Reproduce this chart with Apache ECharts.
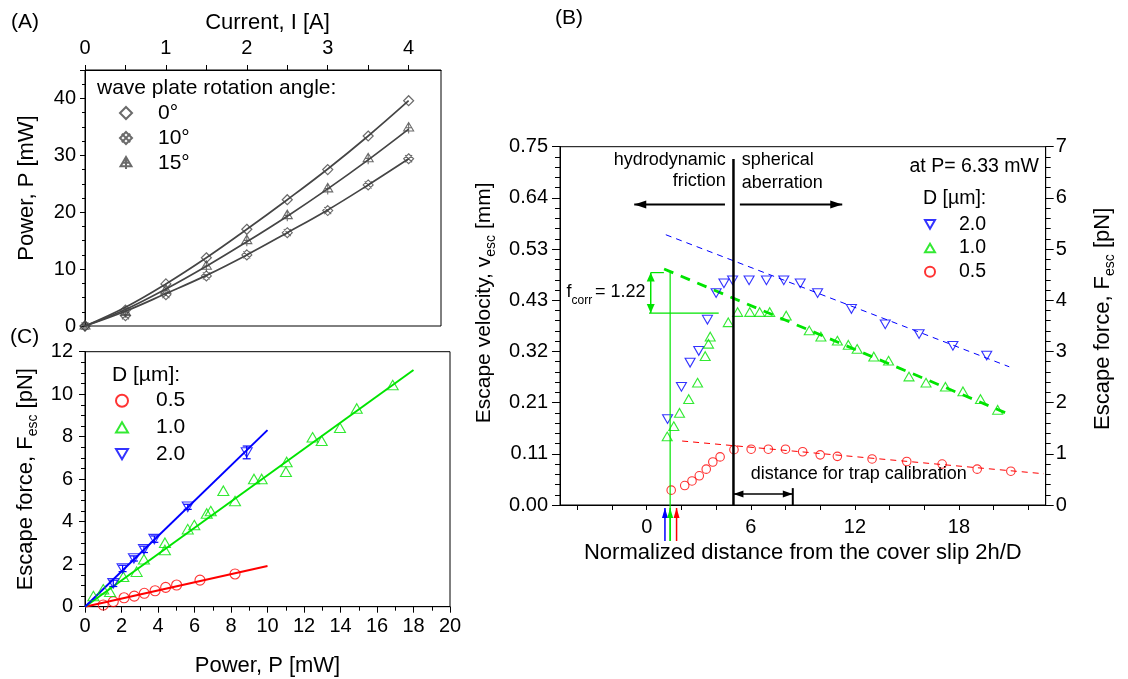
<!DOCTYPE html>
<html><head><meta charset="utf-8">
<script src="https://cdn.jsdelivr.net/npm/echarts@6/dist/echarts.min.js"></script>
<style>html,body{margin:0;padding:0;background:#fff}#c{width:1128px;height:679px}</style>
</head><body><div id="c"></div>
<script>
// ---------- Panel A : power vs current ----------
const currentA = [0, 0.5, 1, 1.5, 2, 2.5, 3, 3.5, 4];
const powerA0  = [0, 2.8, 7.4, 12.0, 17.0, 22.2, 27.5, 33.4, 39.6];
const powerA10 = [0, 1.8, 5.5, 8.8, 12.5, 16.4, 20.3, 24.8, 29.4];
const powerA15 = [0, 2.4, 6.3, 10.5, 15.0, 19.4, 24.1, 29.4, 34.8];
const fitA0  = [0, 3.3, 7.4, 12.0, 17.0, 22.2, 27.6, 33.4, 39.6];
const fitA10 = [0, 2.6, 5.7, 8.9, 12.5, 16.4, 20.4, 24.8, 29.4];
const fitA15 = [0, 2.9, 6.5, 10.5, 14.8, 19.3, 24.1, 29.2, 34.6];
const tickValsA = [0, 0.5, 1, 1.5, 2, 2.5, 3, 3.5, 4];
const labelValsA = [0, 1, 2, 3, 4];

// ---------- Panel C : escape force vs power ----------
const powerC05 = [1.0, 1.55, 2.14, 2.7, 3.25, 3.84, 4.42, 5.02, 6.3, 8.22];
const forceC05 = [0.08, 0.24, 0.42, 0.5, 0.63, 0.75, 0.91, 1.02, 1.25, 1.54];
const powerC10 = [0.46, 1.0, 1.37, 2.1, 2.83, 3.23, 4.38, 4.38, 5.63, 5.99, 6.67, 6.89, 7.58, 8.22, 9.26, 9.68, 11.05, 11.01, 12.47, 12.97, 13.97, 14.89, 16.86];
const forceC10 = [0.5, 0.82, 0.7, 1.41, 1.65, 2.23, 3.01, 2.67, 3.65, 3.84, 4.39, 4.5, 5.46, 4.97, 6.01, 6.01, 6.81, 6.35, 7.97, 7.81, 8.42, 9.33, 10.43];
const powerC20 = [1.55, 2.06, 2.68, 3.23, 3.8, 5.63, 8.86];
const forceC20 = [1.1, 1.8, 2.27, 2.7, 3.18, 4.7, 7.26];
const errC20   = [0.15, 0.15, 0.12, 0.15, 0.15, 0.12, 0.3];
const fitC05x = [0, 10],  fitC05y = [0, 1.92];
const fitC10x = [0, 18],  fitC10y = [0, 11.14];
const fitC20x = [0, 10],  fitC20y = [0, 8.31];

// ---------- Panel B : escape force vs normalized distance ----------
const distB20  = [1.2, 2.0, 2.5, 3.0, 3.5, 4.0, 4.45, 4.95, 5.9, 6.9, 7.9, 8.85, 9.85, 11.8, 13.75, 15.7, 17.65, 19.6];
const forceB20 = [1.68, 2.31, 2.78, 3.01, 3.62, 4.14, 4.33, 4.39, 4.39, 4.39, 4.39, 4.33, 4.14, 3.83, 3.53, 3.34, 3.11, 2.92];
const distB10  = [1.18, 1.56, 1.89, 2.42, 2.93, 3.37, 3.56, 3.66, 4.7, 5.24, 5.94, 6.51, 7.09, 8.04, 9.37, 10.04, 10.99, 11.62, 12.13, 13.09, 13.94, 15.12, 16.1, 17.22, 18.23, 19.24, 20.23];
const forceB10 = [1.34, 1.54, 1.80, 2.07, 2.39, 2.91, 3.15, 3.29, 3.57, 3.77, 3.77, 3.77, 3.77, 3.70, 3.41, 3.29, 3.21, 3.13, 3.05, 2.90, 2.82, 2.51, 2.39, 2.31, 2.22, 2.07, 1.86];
const distB05  = [1.41, 2.19, 2.61, 3.03, 3.43, 3.81, 4.23, 5.03, 6.02, 7.01, 8.0, 8.99, 10.0, 10.99, 12.99, 14.99, 17.03, 19.05, 20.99];
const forceB05 = [0.29, 0.38, 0.47, 0.57, 0.70, 0.84, 0.94, 1.08, 1.09, 1.09, 1.09, 1.04, 0.98, 0.95, 0.90, 0.85, 0.80, 0.70, 0.66];
const fitB20x = [1.1, 20.9],  fitB20y = [5.28, 2.70];
const fitB10x = [1.0, 20.9],  fitB10y = [4.61, 1.77];
const fitB05x = [2.04, 22.9], fitB05y = [1.25, 0.61];
const velLabels = ['0.00', '0.11', '0.21', '0.32', '0.43', '0.53', '0.64', '0.75'];
const tickValsB = [-4, -2, 0, 2, 4, 6, 8, 10, 12, 14, 16, 18, 20, 22];
const labelValsB = [0, 6, 12, 18];

const legendText = {A0: '0°', A10: '10°', A15: '15°', C05: '0.5', C10: '1.0', C20: '2.0', B20: '2.0', B10: '1.0', B05: '0.5'};

// ---------- styling ----------
const FONT = "'Liberation Sans', Arial, Helvetica, sans-serif";
const GRAY = '#454545', BLUE = '#0000ff', GREEN = '#00e400', RED = '#ff0000';
const SYM_DIAMOND = 'path://M5 0L10 5L5 10L0 5Z';
const SYM_DIAX = 'path://M5 0L10 5L5 10L0 5Z M1.5 1.5L8.5 8.5 M8.5 1.5L1.5 8.5';
const SYM_TRIPLUS = 'path://M5 0L10 8.5L0 8.5Z M5 0L5 11 M1.6 5.2L8.4 5.2';
const SYM_UP = 'path://M5 0L10 8.66L0 8.66Z';
const SYM_DOWN = 'path://M0 0L10 0L5 8.66Z';

const zip = (xs, ys) => xs.map((x, i) => [x, ys[i]]);
const hollow = (c, w) => ({color: 'rgba(0,0,0,0)', borderColor: c, borderWidth: w || 1.1});

function valAxis(o) {
  return Object.assign({
    type: 'value',
    axisLine: {show: true, onZero: false, lineStyle: {color: '#000', width: 1}},
    splitLine: {show: false},
    nameLocation: 'middle',
  }, o);
}

const richSub = (size) => ({
  a: {fontSize: size, fontFamily: FONT, color: '#000'},
  s: {fontSize: 14, fontFamily: FONT, color: '#000', padding: [14, 0, 0, 0]}
});

const option = {
  animation: false,
  backgroundColor: '#fff',
  textStyle: {fontFamily: FONT, color: '#000'},
  grid: [
    {left: 85, top: 70, width: 356, height: 256, show: true, borderColor: '#000', borderWidth: 1, backgroundColor: 'transparent'},
    {left: 85, top: 351.7, width: 365, height: 255, show: true, borderColor: '#000', borderWidth: 1, backgroundColor: 'transparent'},
    {left: 560, top: 146.7, width: 485.7, height: 358.3, show: true, borderColor: '#000', borderWidth: 1, backgroundColor: 'transparent'}
  ],
  xAxis: [
    valAxis({gridIndex: 0, position: 'top', min: 0, max: 4.4,
      axisTick: {show: true, inside: false, length: 5, customValues: tickValsA, lineStyle: {color: '#000'}},
      axisLabel: {customValues: labelValsA, fontSize: 20, color: '#000', margin: 12},
      name: 'Current, I [A]', nameGap: 36, nameTextStyle: {fontSize: 22, color: '#000', padding: [0, 0, 0, 9]}}),
    valAxis({gridIndex: 1, position: 'bottom', min: 0, max: 20, interval: 2,
      axisTick: {show: true, inside: false, length: 6, lineStyle: {color: '#000'}},
      minorTick: {show: true, splitNumber: 2, length: 4, lineStyle: {color: '#000'}},
      axisLabel: {fontSize: 20, color: '#000', margin: 10},
      name: 'Power, P [mW]', nameGap: 48, nameTextStyle: {fontSize: 22, color: '#000'}}),
    valAxis({gridIndex: 2, position: 'bottom', min: -5, max: 23,
      axisTick: {show: true, inside: false, length: 5, customValues: tickValsB, lineStyle: {color: '#000'}},
      axisLabel: {customValues: labelValsB, fontSize: 20, color: '#000', margin: 12},
      name: 'Normalized distance from the cover slip 2h/D', nameGap: 34, nameTextStyle: {fontSize: 22, color: '#000'}})
  ],
  yAxis: [
    valAxis({gridIndex: 0, position: 'left', min: 0, max: 45, interval: 10,
      axisTick: {show: true, inside: false, length: 5, lineStyle: {color: '#000'}},
      minorTick: {show: true, splitNumber: 4, length: 3, lineStyle: {color: '#000'}},
      axisLabel: {fontSize: 20, color: '#000', margin: 9, formatter: v => (v % 10 === 0 ? String(v) : '')},
      name: 'Power, P [mW]', nameGap: 47, nameTextStyle: {fontSize: 22, color: '#000', padding: [0, 0, 0, 20]}}),
    valAxis({gridIndex: 1, position: 'left', min: 0, max: 12, interval: 2,
      axisTick: {show: true, inside: false, length: 6, lineStyle: {color: '#000'}},
      minorTick: {show: true, splitNumber: 4, length: 4, lineStyle: {color: '#000'}},
      axisLabel: {fontSize: 20, color: '#000', margin: 12},
      name: '{a|Escape force, F}{s|esc}{a| [pN]}', nameGap: 45,
      nameTextStyle: {fontSize: 22, color: '#000', rich: richSub(22)}}),
    valAxis({gridIndex: 2, position: 'left', min: 0, max: 7, interval: 1,
      axisTick: {show: true, inside: false, length: 8, lineStyle: {color: '#000'}},
      minorTick: {show: true, splitNumber: 5, length: 5, lineStyle: {color: '#000'}},
      axisLabel: {fontSize: 20, color: '#000', margin: 12, formatter: v => velLabels[Math.round(v)] || ''},
      name: '{a|Escape velocity, v}{s|esc}{a| [mm]}', nameGap: 62,
      nameTextStyle: {fontSize: 21, color: '#000', rich: richSub(21), padding: [0, 0, 0, 46]}}),
    valAxis({gridIndex: 2, position: 'right', min: 0, max: 7, interval: 1,
      axisTick: {show: true, inside: false, length: 8, lineStyle: {color: '#000'}},
      minorTick: {show: true, splitNumber: 5, length: 5, lineStyle: {color: '#000'}},
      axisLabel: {fontSize: 20, color: '#000', margin: 10},
      name: '{a|Escape force, F}{s|esc}{a| [pN]}', nameGap: 43,
      nameTextStyle: {fontSize: 22, color: '#000', rich: richSub(22), padding: [0, 0, 0, 14]}})
  ],
  legend: [
    {left: 119, top: 100.5, orient: 'vertical', padding: 0, itemGap: 0, itemWidth: 12, itemHeight: 12, selectedMode: false,
     textStyle: {fontSize: 21, color: '#000', lineHeight: 25, padding: [0, 0, 0, 21]},
     formatter: n => legendText[n],
     data: [{name: 'A0', icon: SYM_DIAMOND}, {name: 'A10', icon: SYM_DIAX}, {name: 'A15', icon: SYM_TRIPLUS}]},
    {left: 115, top: 388.7, orient: 'vertical', padding: 0, itemGap: 2.7, itemWidth: 12, itemHeight: 12, selectedMode: false,
     textStyle: {fontSize: 21, color: '#000', lineHeight: 24, padding: [0, 0, 0, 23]},
     formatter: n => legendText[n],
     data: [{name: 'C05', icon: 'circle'}, {name: 'C10', icon: SYM_UP}, {name: 'C20', icon: SYM_DOWN}]},
    {left: 924, top: 213.3, orient: 'vertical', padding: 0, itemGap: 1.7, itemWidth: 10, itemHeight: 10, selectedMode: false,
     textStyle: {fontSize: 19.5, color: '#000', lineHeight: 22, padding: [0, 0, 0, 19]},
     formatter: n => legendText[n],
     data: [{name: 'B20', icon: SYM_DOWN}, {name: 'B10', icon: SYM_UP}, {name: 'B05', icon: 'circle'}]}
  ],
  series: [
    // Panel A fits
    {type: 'line', name: 'fitA0', xAxisIndex: 0, yAxisIndex: 0, data: zip(currentA, fitA0), smooth: 0.4, symbol: 'none', silent: true, lineStyle: {color: GRAY, width: 1.7}, z: 2},
    {type: 'line', name: 'fitA10', xAxisIndex: 0, yAxisIndex: 0, data: zip(currentA, fitA10), smooth: 0.4, symbol: 'none', silent: true, lineStyle: {color: GRAY, width: 1.7}, z: 2},
    {type: 'line', name: 'fitA15', xAxisIndex: 0, yAxisIndex: 0, data: zip(currentA, fitA15), smooth: 0.4, symbol: 'none', silent: true, lineStyle: {color: GRAY, width: 1.7}, z: 2},
    // Panel A markers
    {type: 'scatter', name: 'A0', xAxisIndex: 0, yAxisIndex: 0, data: zip(currentA, powerA0), symbol: SYM_DIAMOND, symbolSize: 10, itemStyle: hollow(GRAY, 1.2), z: 3},
    {type: 'scatter', name: 'A10', xAxisIndex: 0, yAxisIndex: 0, data: zip(currentA, powerA10), symbol: SYM_DIAX, symbolSize: 10, itemStyle: hollow(GRAY, 1.1), z: 3},
    {type: 'scatter', name: 'A15', xAxisIndex: 0, yAxisIndex: 0, data: zip(currentA, powerA15), symbol: SYM_TRIPLUS, symbolSize: [10, 11], itemStyle: hollow(GRAY, 1.1), z: 3},
    // Panel C fits
    {type: 'line', name: 'fitC05', xAxisIndex: 1, yAxisIndex: 1, data: zip(fitC05x, fitC05y), symbol: 'none', silent: true, lineStyle: {color: RED, width: 2}, z: 2},
    {type: 'line', name: 'fitC10', xAxisIndex: 1, yAxisIndex: 1, data: zip(fitC10x, fitC10y), symbol: 'none', silent: true, lineStyle: {color: GREEN, width: 2}, z: 2},
    {type: 'line', name: 'fitC20', xAxisIndex: 1, yAxisIndex: 1, data: zip(fitC20x, fitC20y), symbol: 'none', silent: true, lineStyle: {color: BLUE, width: 2}, z: 2},
    // Panel C markers
    {type: 'scatter', name: 'C05', xAxisIndex: 1, yAxisIndex: 1, data: zip(powerC05, forceC05), symbol: 'circle', symbolSize: 10, itemStyle: hollow(RED), z: 3},
    {type: 'scatter', name: 'C10', xAxisIndex: 1, yAxisIndex: 1, data: zip(powerC10, forceC10), symbol: SYM_UP, symbolSize: [11, 9.5], itemStyle: hollow(GREEN), z: 3},
    {type: 'scatter', name: 'C20', xAxisIndex: 1, yAxisIndex: 1, data: zip(powerC20, forceC20), symbol: SYM_DOWN, symbolSize: [11, 9.5], itemStyle: hollow(BLUE), z: 3},
    {type: 'custom', name: 'errC20', xAxisIndex: 1, yAxisIndex: 1, silent: true, z: 3,
     data: powerC20.map((p, i) => [p, forceC20[i], errC20[i]]),
     renderItem: (params, api) => {
       const x = api.value(0), y = api.value(1), e = api.value(2);
       const t = api.coord([x, y + e]), b = api.coord([x, y - e]);
       const w = 4, st = {stroke: BLUE, lineWidth: 1.2};
       return {type: 'group', children: [
         {type: 'line', shape: {x1: t[0], y1: t[1], x2: b[0], y2: b[1]}, style: st},
         {type: 'line', shape: {x1: t[0] - w, y1: t[1], x2: t[0] + w, y2: t[1]}, style: st},
         {type: 'line', shape: {x1: b[0] - w, y1: b[1], x2: b[0] + w, y2: b[1]}, style: st}
       ]};
     }},
    // Panel B fits
    {type: 'line', name: 'fitB20', xAxisIndex: 2, yAxisIndex: 3, data: zip(fitB20x, fitB20y), symbol: 'none', silent: true, lineStyle: {color: BLUE, width: 1, type: [6, 5]}, z: 2},
    {type: 'line', name: 'fitB10', xAxisIndex: 2, yAxisIndex: 3, data: zip(fitB10x, fitB10y), symbol: 'none', silent: true, lineStyle: {color: GREEN, width: 2.8, type: [10, 8]}, z: 2},
    {type: 'line', name: 'fitB05', xAxisIndex: 2, yAxisIndex: 3, data: zip(fitB05x, fitB05y), symbol: 'none', silent: true, lineStyle: {color: RED, width: 1, type: [6, 5]}, z: 2},
    // Panel B markers
    {type: 'scatter', name: 'B20', xAxisIndex: 2, yAxisIndex: 3, data: zip(distB20, forceB20), symbol: SYM_DOWN, symbolSize: [10, 8.7], itemStyle: hollow(BLUE), z: 3},
    {type: 'scatter', name: 'B10', xAxisIndex: 2, yAxisIndex: 3, data: zip(distB10, forceB10), symbol: SYM_UP, symbolSize: [10, 8.7], itemStyle: hollow(GREEN), z: 3},
    {type: 'scatter', name: 'B05', xAxisIndex: 2, yAxisIndex: 3, data: zip(distB05, forceB05), symbol: 'circle', symbolSize: 8.5, itemStyle: hollow(RED), z: 3}
  ]
};

const chart = echarts.init(document.getElementById('c'), null, {renderer: 'canvas'});
chart.setOption(option);

// ---------- annotations (positions derived from panel B axes) ----------
const P = (d, F) => chart.convertToPixel({xAxisIndex: 2, yAxisIndex: 3}, [d, F]);
const g = [];
function seg(a, b, color, w) {
  g.push({type: 'line', z: 20, silent: true, shape: {x1: a[0], y1: a[1], x2: b[0], y2: b[1]}, style: {stroke: color, lineWidth: w}});
}
function head(tip, from, color, len, half) {
  const dx = tip[0] - from[0], dy = tip[1] - from[1], L = Math.hypot(dx, dy);
  const ux = dx / L, uy = dy / L, bx = tip[0] - ux * len, by = tip[1] - uy * len;
  g.push({type: 'polygon', z: 21, silent: true, shape: {points: [tip, [bx - uy * half, by + ux * half], [bx + uy * half, by - ux * half]]}, style: {fill: color}});
}
function arrow(from, tip, color, w, len, half, both) {
  seg(from, tip, color, w);
  head(tip, from, color, len, half);
  if (both) head(from, tip, color, len, half);
}
function txt(x, y, s, size, align, extra) {
  g.push(Object.assign({type: 'text', z: 22, silent: true, x: x, y: y,
    style: {text: s, fill: '#000', fontSize: size, fontFamily: FONT, align: align || 'left', verticalAlign: 'middle'}}, extra || {}));
}

const yAxisPx = P(0, 0)[1];
// vertical boundary line
seg(P(5, 6.76), P(5, 0), '#000', 2.5);
// region arrows
arrow(P(4.51, 5.87), P(-0.72, 5.87), '#000', 2, 12, 4);
arrow(P(5.37, 5.87), P(11.27, 5.87), '#000', 2, 12, 4);
// f_corr bracket
seg(P(0.23, 4.54), P(0.99, 4.54), GREEN, 1.2);
seg(P(0.13, 3.75), P(4.15, 3.75), GREEN, 1.2);
arrow(P(0.23, 3.75), P(0.23, 4.54), GREEN, 1.5, 9, 4, true);
const gv = P(1.35, 4.54);
seg(gv, [gv[0], yAxisPx + 36], GREEN, 1.2);
// arrows under the axis
[[1.05, BLUE], [1.35, GREEN], [1.72, RED]].forEach(([d, c]) => {
  const x = P(d, 0)[0];
  arrow([x, yAxisPx + 36], [x, yAxisPx + 3], c, 1.5, 10, 3);
});
// distance for trap calibration bracket
arrow(P(5, 0.215), P(8.42, 0.215), '#000', 1.5, 10, 3.5, true);
seg(P(8.42, 0.33), P(8.42, 0), '#000', 2);

// texts
txt(725.7, 160, 'hydrodynamic', 18, 'right');
txt(725.7, 181, 'friction', 18, 'right');
txt(741.7, 160, 'spherical', 18, 'left');
txt(741.7, 183, 'aberration', 18, 'left');
txt(1039, 166.7, 'at P= 6.33 mW', 19.5, 'right');
txt(923, 198.3, 'D [µm]:', 19.5, 'left');
txt(750.7, 474, 'distance for trap calibration', 18, 'left');
txt(566.5, 291.7, 'f', 18, 'left');
txt(571.5, 300.7, 'corr', 12, 'left');
txt(595, 291.7, '= 1.22', 18, 'left');
// panel-A / panel-C legend headers
txt(97, 88.5, 'wave plate rotation angle:', 21, 'left');
txt(112, 375, 'D [µm]:', 21, 'left');
// panel letters
txt(11, 22, '(A)', 21, 'left');
txt(555, 18, '(B)', 21, 'left');
txt(10, 337, '(C)', 21, 'left');

chart.setOption({graphic: g});
</script>
</body></html>
